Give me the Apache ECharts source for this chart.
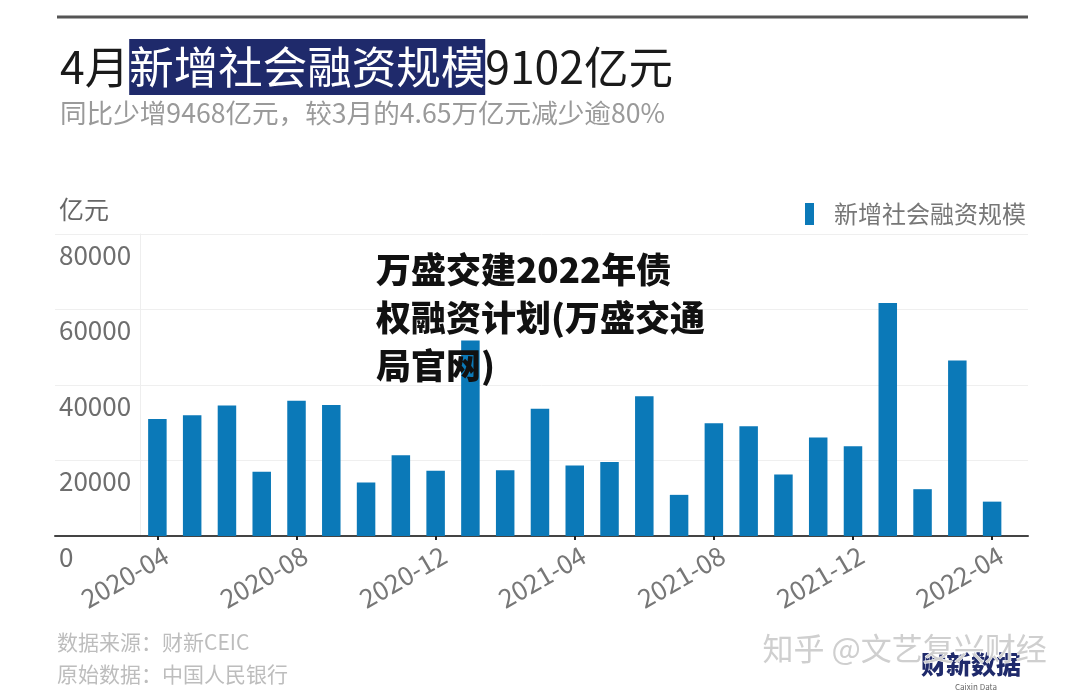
<!DOCTYPE html>
<html>
<head>
<meta charset="utf-8">
<script src="https://cdn.jsdelivr.net/npm/echarts@6/dist/echarts.min.js"></script>
<style>html,body{margin:0;padding:0;background:#fff;}#c{width:1080px;height:695px;}</style>
</head>
<body>
<div id="c"></div>
<script>
var categories = ['2020-04','2020-05','2020-06','2020-07','2020-08','2020-09','2020-10','2020-11','2020-12',
  '2021-01','2021-02','2021-03','2021-04','2021-05','2021-06','2021-07','2021-08','2021-09','2021-10','2021-11','2021-12',
  '2022-01','2022-02','2022-03','2022-04'];
var values = [31000, 32000, 34600, 17000, 35800, 34700, 14200, 21400, 17300,
  51800, 17400, 33700, 18700, 19600, 37000, 10900, 29900, 29100, 16300, 26100, 23800,
  61700, 12400, 46500, 9102];
var yTicks = {min: 0, max: 80000, interval: 20000};
var seriesName = '新增社会融资规模';

var FONT = '"Noto Sans CJK SC", "Noto Sans", sans-serif';
var chart = echarts.init(document.getElementById('c'));
chart.setOption({
  backgroundColor: '#fff',
  animation: false,
  title: [{
    left: 55, top: 34,
    text: '{a|4月}{b|新增社会融资规模}{a|9102亿元}',
    textStyle: {
      fontWeight: 'normal',
      rich: {
        a: {fontFamily: FONT, fontSize: 44.5, fontWeight: 'normal', color: '#1a1a1a', height: 56, lineHeight: 56},
        b: {fontFamily: FONT, fontSize: 44.5, fontWeight: 'normal', color: '#fff', backgroundColor: '#1f2a6b', height: 56, lineHeight: 56}
      }
    }
  }, {
    left: 55, top: 95,
    text: '同比少增9468亿元，较3月的4.65万亿元减少逾80%',
    textStyle: {fontFamily: FONT, fontSize: 26.6, fontWeight: 'normal', color: '#9a9a9a'}
  }],
  legend: {
    left: 800, top: 197,
    itemWidth: 9, itemHeight: 22, icon: 'rect',
    textStyle: {fontFamily: FONT, fontSize: 24, color: '#777', padding: [0, 0, 0, 15]},
    data: [seriesName]
  },
  grid: [
    {left: 140, right: 70.5, top: 234, bottom: 159},
    {left: 55, right: 52, top: 234, bottom: 159}
  ],
  xAxis: [{
    type: 'category', gridIndex: 0, data: categories, boundaryGap: true,
    axisLine: {show: false},
    axisTick: {show: true, interval: 3, alignWithLabel: true, length: 4, lineStyle: {color: '#222', width: 2}},
    axisLabel: {interval: 3, rotate: 30, margin: 22, padding: [0, -10, 0, 0], fontFamily: FONT, fontSize: 26, color: '#777'}
  }, {
    type: 'value', gridIndex: 1, min: 0, max: 1,
    axisLine: {show: true, onZero: false, lineStyle: {color: '#444', width: 2}},
    axisTick: {show: false}, axisLabel: {show: false}, splitLine: {show: false}
  }],
  yAxis: [{
    type: 'value', gridIndex: 0, min: yTicks.min, max: yTicks.max, interval: yTicks.interval,
    axisLine: {show: true, lineStyle: {color: '#eeeeee', width: 1}},
    axisTick: {show: false}, axisLabel: {show: false}, splitLine: {show: false}
  }, {
    type: 'value', gridIndex: 1, min: yTicks.min, max: yTicks.max, interval: yTicks.interval,
    axisLine: {show: false}, axisTick: {show: false},
    axisLabel: {inside: true, margin: 4, verticalAlign: 'top', padding: [8, 0, 0, 0],
      formatter: function (v) { return String(v); },
      fontFamily: FONT, fontSize: 26, color: '#6e6e6e'},
    splitLine: {show: true, lineStyle: {color: '#efefef', width: 1}}
  }],
  series: [{
    name: seriesName, type: 'bar', xAxisIndex: 0, yAxisIndex: 0,
    data: values, barWidth: 18.5,
    itemStyle: {color: '#0b79b8'}
  }],
  graphic: [
    {type: 'line', shape: {x1: 57, y1: 17, x2: 1028, y2: 17}, style: {stroke: '#555', lineWidth: 3}},
    {type: 'text', left: 59, top: 197, style: {text: '亿元', fontFamily: FONT, fontSize: 25, fill: '#666'}},
    {type: 'text', left: 376, top: 246, z: 100, style: {
      text: '万盛交建2022年债\n权融资计划(万盛交通\n局官网)',
      fontFamily: FONT, fontSize: 35, fontWeight: 900, fill: '#111', lineHeight: 48}},
    {type: 'text', left: 57, top: 632, style: {text: '数据来源：财新CEIC', fontFamily: FONT, fontSize: 21, fill: '#bdbdbd'}},
    {type: 'text', left: 57, top: 664, style: {text: '原始数据：中国人民银行', fontFamily: FONT, fontSize: 21, fill: '#bdbdbd'}},
    {type: 'text', left: 921, top: 652, style: {text: '财新数据', fontFamily: FONT, fontSize: 25, fontWeight: 900, fill: '#1f2a6b'}},
    {type: 'text', left: 955, top: 683, style: {text: 'Caixin Data', fontFamily: FONT, fontSize: 8, fill: '#666'}},
    {type: 'text', left: 762, top: 632, z: 101, style: {text: '知乎 @文艺复兴财经', fontFamily: FONT, fontSize: 31, fill: '#cfcfcf', stroke: '#fff', lineWidth: 1}}
  ]
});
</script>
</body>
</html>
